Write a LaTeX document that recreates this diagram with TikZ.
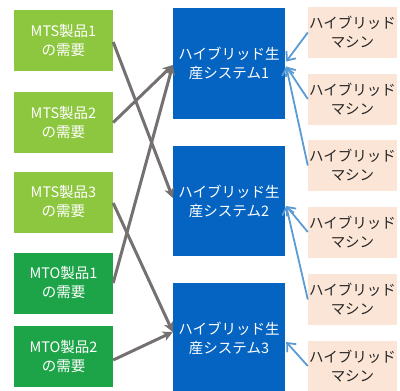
\documentclass[tikz,border=0pt]{standalone}
\usepackage{fontspec}
\setmainfont{Noto Sans CJK JP}
\usetikzlibrary{arrows.meta}
\definecolor{mtsgreen}{RGB}{141,198,63}
\definecolor{mtogreen}{RGB}{30,164,72}
\definecolor{sysblue}{RGB}{5,99,193}
\definecolor{peach}{RGB}{251,229,214}
\definecolor{arrgray}{RGB}{118,113,113}
\definecolor{arrblue}{RGB}{91,155,213}
\tikzset{
  every node/.style={font=\fontsize{14.5}{19}\selectfont, align=center, inner sep=0pt},
  demand/.style={minimum width=99pt, minimum height=61pt, text=white},
  mts/.style={demand, fill=mtsgreen},
  mto/.style={demand, fill=mtogreen},
  sysbox/.style={fill=sysblue, text=white, minimum width=112pt, minimum height=110pt},
  machine/.style={fill=peach, text={black!85}, minimum width=89pt, minimum height=51pt},
  grayarrow/.style={draw=arrgray, line width=3pt, -{Stealth[length=10pt,width=10pt,inset=3pt]}},
  bluearrow/.style={draw=arrblue, line width=1.8pt, -{Straight Barb[length=7pt,width=12pt,line width=1.8pt]}}
}
\begin{document}
\begin{tikzpicture}[x=1pt,y=-1pt]
\useasboundingbox (0,0) rectangle (400,391);
\node[mts] (mts1) at (63.5,40.5) {MTS製品1\\の需要};
\node[mts] (mts2) at (63.5,122.5) {MTS製品2\\の需要};
\node[mts] (mts3) at (63.5,202) {MTS製品3\\の需要};
\node[mto] (mto1) at (63.5,283) {MTO製品1\\の需要};
\node[mto] (mto2) at (63.5,356.5) {MTO製品2\\の需要};
\node[sysbox, minimum height=111pt] (sys1) at (229,63.5) {ハイブリッド生\\産システム1};
\node[sysbox] (sys2) at (229,201) {ハイブリッド生\\産システム2};
\node[sysbox] (sys3) at (229,338) {ハイブリッド生\\産システム3};
\node[machine] (m1) at (352.5,32.5) {ハイブリッド\\マシン};
\node[machine] (m2) at (352.5,99) {ハイブリッド\\マシン};
\node[machine] (m3) at (352.5,165.5) {ハイブリッド\\マシン};
\node[machine] (m4) at (352.5,232) {ハイブリッド\\マシン};
\node[machine] (m5) at (352.5,299.5) {ハイブリッド\\マシン};
\node[machine] (m6) at (352.5,366) {ハイブリッド\\マシン};
\draw[grayarrow] ([yshift=-1.5pt]mts1.east) -- ([yshift=3pt]sys2.west);
\draw[grayarrow] (mts2.east) -- ([yshift=-1.5pt]sys1.west);
\draw[grayarrow] ([yshift=-1pt]mts3.east) -- ([yshift=6pt]sys3.west);
\draw[grayarrow] (mto1.east) -- ([yshift=-1.5pt]sys1.west);
\draw[grayarrow] ([yshift=-3.5pt]mto2.east) -- ([yshift=6pt]sys3.west);
\draw[bluearrow] (m1.west) -- ([xshift=1pt,yshift=2pt]sys1.east);
\draw[bluearrow] (m2.west) -- ([xshift=1pt,yshift=-3pt]sys1.east);
\draw[bluearrow] (m3.west) -- ([xshift=1pt,yshift=-3pt]sys1.east);
\draw[bluearrow] (m4.west) -- ([xshift=1pt,yshift=-5pt]sys2.east);
\draw[bluearrow] (m5.west) -- ([xshift=1pt,yshift=-5pt]sys2.east);
\draw[bluearrow] (m6.west) -- ([xshift=1pt,yshift=-4pt]sys3.east);
\end{tikzpicture}
\end{document}
